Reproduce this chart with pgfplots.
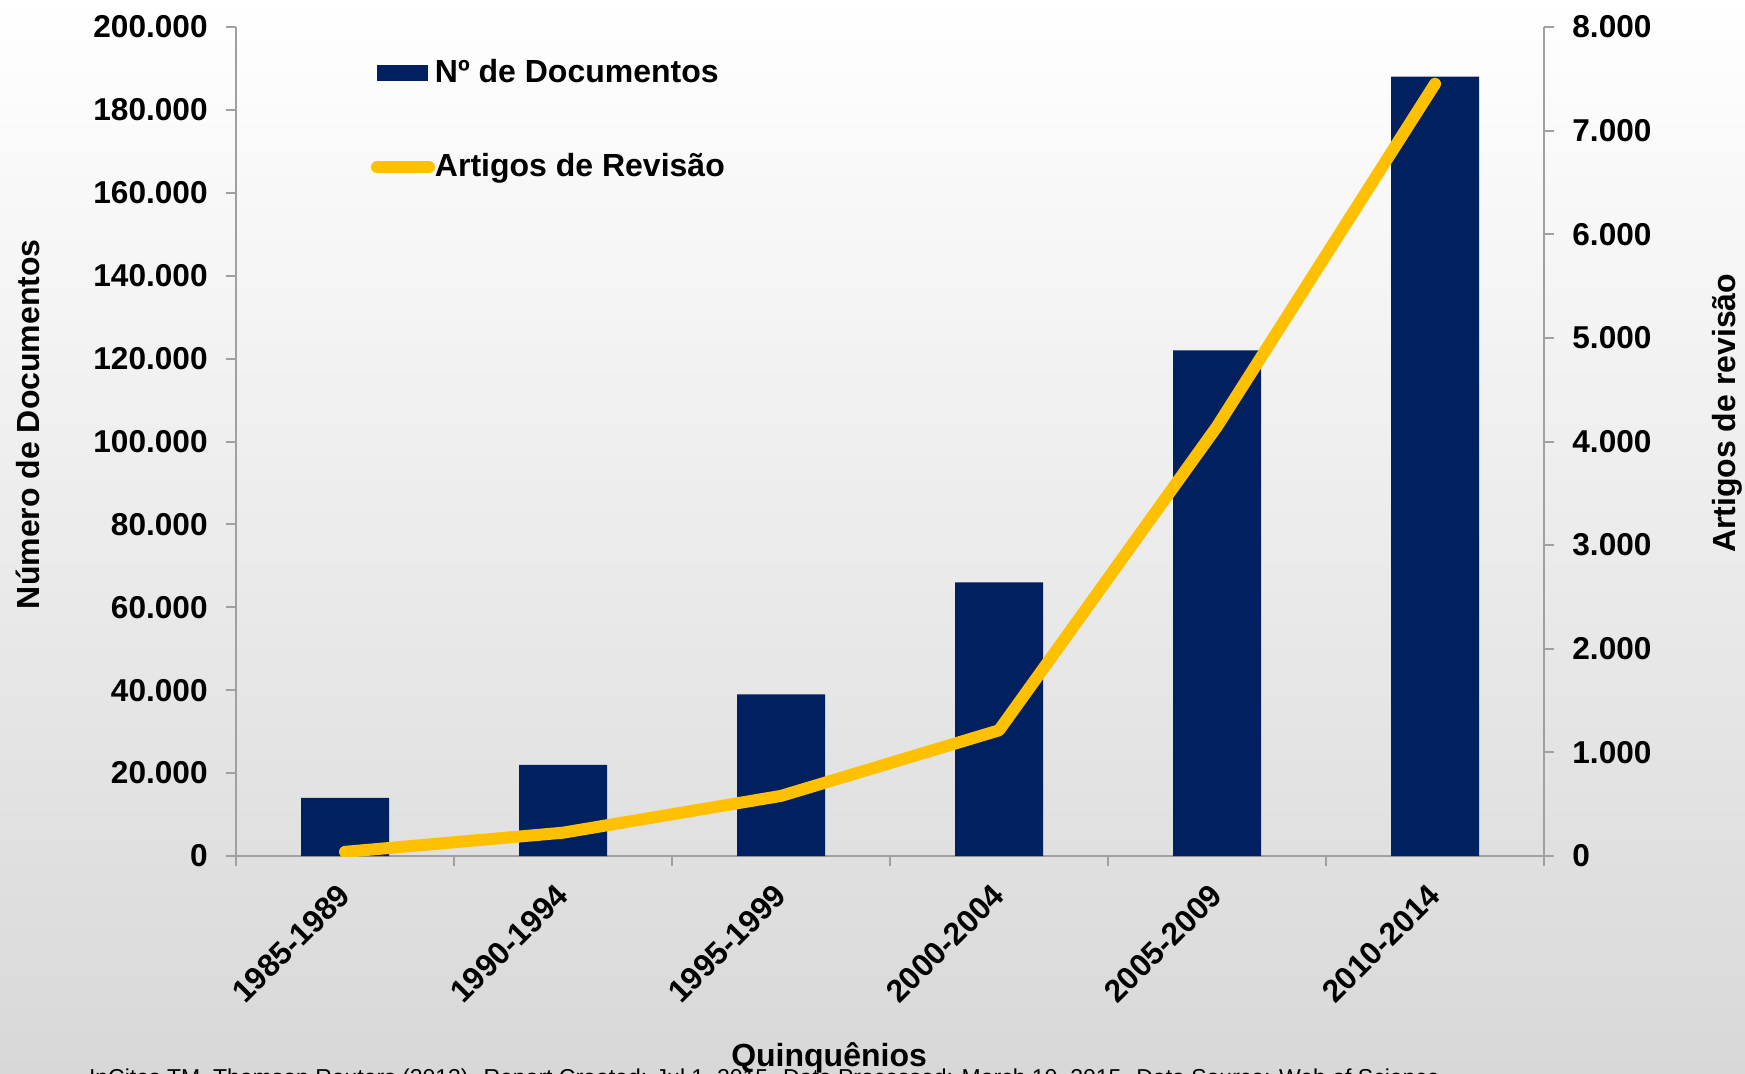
\documentclass[border=0pt]{standalone}
\usepackage{fontspec}
\setmainfont{Liberation Sans}
\usepackage{pgfplots}
\pgfplotsset{compat=1.18}
\definecolor{navy}{RGB}{0,32,96}
\definecolor{gold}{RGB}{255,192,0}
\definecolor{axgray}{RGB}{160,160,160}
\definecolor{bgbot}{RGB}{216,216,216}
\newcommand{\bigbf}{\fontsize{16}{19}\selectfont\bfseries}
\newcommand{\tickbf}{\fontsize{15.8}{19}\selectfont\bfseries}

\pgfplotsset{
  common/.style={
    at={(118pt,108.5pt)}, anchor=south west, scale only axis,
    width=654pt, height=414.5pt,
    xmin=-0.5, xmax=5.5,
    axis line style={axgray, line width=1pt, -},
    tick style={axgray, line width=1pt},
    tick align=outside,
    major tick length=5pt, minor tick length=5pt,
    scaled y ticks=false,
    /pgf/number format/fixed,
    /pgf/number format/1000 sep={.},
    /pgf/number format/assume math mode=true,
    tick label style={font=\tickbf},
    label style={font=\bigbf},
  }
}

\begin{document}
\begin{tikzpicture}
\shade[top color=white, bottom color=bgbot] (0pt,0pt) rectangle (872.5pt,536.5pt);

\begin{axis}[common,
  ymin=0, ymax=200000, ytick={0,20000,...,200000},
  axis y line*=left, axis x line*=bottom,
  xtick={0,...,5},
  xticklabels={1985-1989,1990-1994,1995-1999,2000-2004,2005-2009,2010-2014},
  minor xtick={-0.5,0.5,...,5.5},
  major x tick style={draw=none},
  xticklabel style={yshift=-12pt, rotate=45, anchor=east, inner sep=0pt},
  yticklabel style={anchor=east, inner sep=0pt, xshift=-9pt},
  ylabel={Número de Documentos},
  ylabel style={at={(axis description cs:-0.159,0.521)}, anchor=center},
  xlabel={Quinquênios},
  xlabel style={at={(axis description cs:0.4534,-0.2545)}, anchor=base},
  legend style={at={(axis description cs:0.1032,0.9602)}, anchor=north west,
    draw=none, fill=none, inner sep=0pt, outer sep=0pt, row sep=34pt,
    font=\bigbf,
    nodes={inner sep=0pt, text height=11.5pt, text depth=1.5pt},
    /tikz/every even column/.append style={column sep=0pt}},
  legend cell align=left,
]
\addplot[ybar, bar width=44pt, fill=navy, draw=none,
  legend image code/.code={\path[draw=none,fill=none] (0pt,-4pt) rectangle (32pt,4pt);
    \fill[navy] (3pt,-4pt) rectangle (28.5pt,4pt);}]
  coordinates {(0,14000) (1,22000) (2,39000) (3,66000) (4,122000) (5,188000)};
\addlegendentry{Nº de Documentos}
\addlegendimage{legend image code/.code={\path[draw=none,fill=none] (0pt,-4pt) rectangle (32pt,4pt);
    \draw[gold, line width=6pt, line cap=round] (3pt,0pt) -- (29pt,0pt);}}
\addlegendentry{Artigos de Revisão}
\end{axis}

\begin{axis}[common,
  ymin=0, ymax=8000, ytick={0,1000,...,8000},
  axis y line*=right, axis x line=none,
  yticklabel style={anchor=west, inner sep=0pt, xshift=9pt},
  ylabel={Artigos de revisão},
  ylabel style={at={(axis description cs:1.14,0.534)}, anchor=center},
]
\addplot[gold, line width=6pt, line cap=round, line join=round]
  coordinates {(0,40) (1,225) (2,580) (3,1213) (4,4145) (5,7452)};
\end{axis}

\node[anchor=base west, font=\fontsize{11.5}{13}\selectfont] at (41pt,-6pt)
  {InCites TM, Thomson Reuters (2013). Report Created: Jul 1, 2015. Data Processed: March 10, 2015. Data Source: Web of Science};

\pgfresetboundingbox
\useasboundingbox (0pt,0pt) rectangle (872.5pt,536.5pt);
\end{tikzpicture}
\end{document}
